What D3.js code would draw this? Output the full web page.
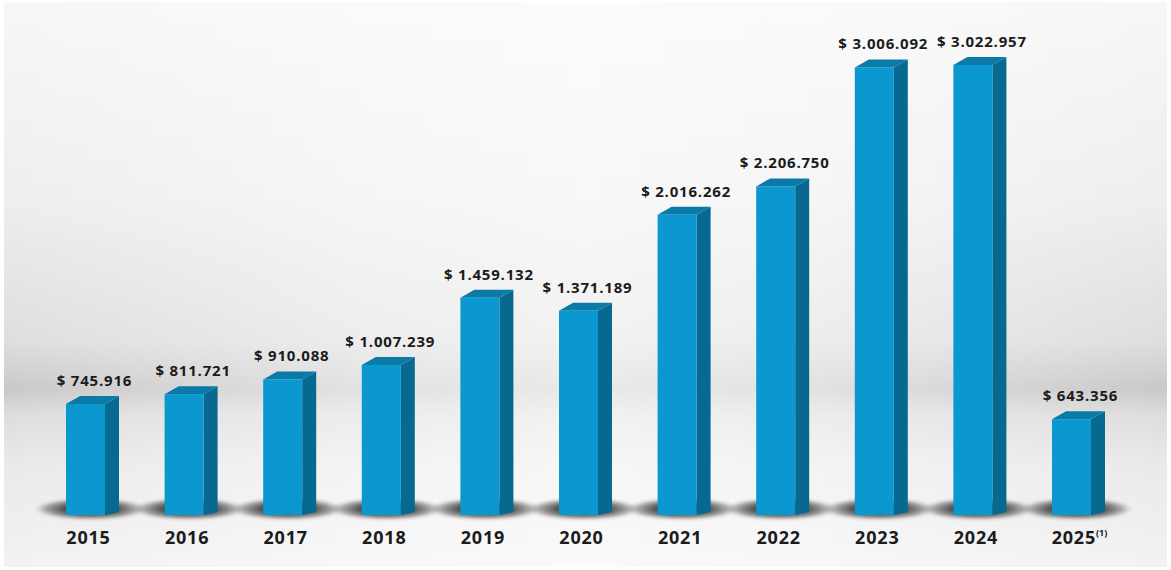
<!DOCTYPE html>
<html>
<head>
<meta charset="utf-8">
<script src="https://cdn.jsdelivr.net/npm/d3@7"></script>
<style>
  html, body { margin: 0; padding: 0; background: #ffffff; }
  svg { display: block; }
  text { font-family: "Open Sans", "DejaVu Sans", sans-serif; font-weight: 700; fill: #1b1b1b; }
</style>
</head>
<body>
<svg id="chart" width="1171" height="570"></svg>
<script>
// Annual amounts per year (pesos)
const years = ["2015", "2016", "2017", "2018", "2019", "2020", "2021", "2022", "2023", "2024", "2025"];
const amounts = [745916, 811721, 910088, 1007239, 1459132, 1371189, 2016262, 2206750, 3006092, 3022957, 643356];
const yearNotes = ["", "", "", "", "", "", "", "", "", "", "(1)"];

const W = 1171, H = 570;
const baseY = 515;
const faceW = 39, depthX = 14, depthY = 8;

const svg = d3.select("#chart");
const defs = svg.append("defs");

// Backdrop: soft grey studio gradient with a darker horizon band
const bgV = defs.append("linearGradient").attr("id", "bgV").attr("x1", 0).attr("y1", 0).attr("x2", 0).attr("y2", 1);
[[0, "#f7f7f7"], [0.35, "#eeeeee"], [0.6, "#dedede"], [0.685, "#c9c9c9"], [0.73, "#dddddd"], [0.82, "#eaeaea"], [1, "#f2f2f2"]]
  .forEach(([o, c]) => bgV.append("stop").attr("offset", o).attr("stop-color", c));

const bgH = defs.append("linearGradient").attr("id", "bgH").attr("x1", 0).attr("y1", 0).attr("x2", 1).attr("y2", 0);
[[0, 0], [0.3, 0.45], [0.5, 0.6], [0.7, 0.45], [1, 0]]
  .forEach(([o, a]) => bgH.append("stop").attr("offset", o).attr("stop-color", "#ffffff").attr("stop-opacity", a));

// Cast shadow under each bar
const shGrad = defs.append("radialGradient").attr("id", "shadowGrad");
[[0, 1], [0.45, 0.85], [0.8, 0.4], [1, 0]]
  .forEach(([o, a]) => shGrad.append("stop").attr("offset", o).attr("stop-color", "#2a2a2a").attr("stop-opacity", a));
const blur = defs.append("filter").attr("id", "soft").attr("x", "-20%").attr("y", "-100%").attr("width", "140%").attr("height", "300%");
blur.append("feGaussianBlur").attr("stdDeviation", 1.5);

svg.append("rect").attr("x", 4).attr("y", 2).attr("width", W - 8).attr("height", H - 5).attr("fill", "url(#bgV)");
svg.append("rect").attr("x", 4).attr("y", 2).attr("width", W - 8).attr("height", H - 5).attr("fill", "url(#bgH)");

// Scales
const x = d3.scalePoint().domain(years).range([85.5, 1071.5]);
const y = d3.scaleLinear().domain([0, 3000000]).range([baseY, baseY - 446.7]);

const locale = d3.formatLocale({ decimal: ",", thousands: ".", grouping: [3], currency: ["$ ", ""] });
const fmt = locale.format("$,d");

const data = years.map((yr, i) => ({ year: yr, value: amounts[i], note: yearNotes[i] }));

// Shadows
svg.append("g").selectAll("ellipse").data(data).join("ellipse")
  .attr("cx", d => x(d.year) + 5)
  .attr("cy", baseY - 6)
  .attr("rx", 55)
  .attr("ry", 11)
  .attr("fill", "url(#shadowGrad)")
  .attr("filter", "url(#soft)");

// 3D bars: side face, top cap, front face
const bars = svg.append("g").selectAll("g").data(data).join("g");

bars.append("path")
  .attr("fill", "#07698f")
  .attr("d", d => {
    const xr = x(d.year) + faceW / 2, yt = y(d.value);
    return `M${xr},${yt} L${xr + depthX},${yt - depthY} L${xr + depthX},${baseY - 3} L${xr},${baseY} Z`;
  });

bars.append("path")
  .attr("fill", "#0b7aa6")
  .attr("d", d => {
    const xl = x(d.year) - faceW / 2, xr = x(d.year) + faceW / 2, yt = y(d.value);
    return `M${xl},${yt} L${xl + depthX},${yt - depthY} L${xr + depthX},${yt - depthY} L${xr},${yt} Z`;
  });

bars.append("rect")
  .attr("x", d => x(d.year) - faceW / 2)
  .attr("y", d => y(d.value))
  .attr("width", faceW)
  .attr("height", d => baseY - y(d.value))
  .attr("fill", "#0b97cf");

// Value labels above each bar
svg.append("g").selectAll("text").data(data).join("text")
  .attr("x", d => x(d.year) + 9)
  .attr("y", d => y(d.value) - depthY - 10)
  .attr("text-anchor", "middle")
  .attr("font-size", 15)
  .attr("letter-spacing", 0.8)
  .text(d => fmt(d.value));

// Year labels along the base
const yl = svg.append("g").selectAll("text").data(data).join("text")
  .attr("x", d => x(d.year) + 3 + (d.note ? 5 : 0))
  .attr("y", 544)
  .attr("text-anchor", "middle")
  .attr("font-size", 18)
  .attr("letter-spacing", 0.8);
yl.append("tspan").text(d => d.year);
yl.filter(d => d.note).append("tspan")
  .attr("font-size", 9)
  .attr("letter-spacing", 0)
  .attr("dy", -8)
  .text(d => d.note);
</script>
</body>
</html>
